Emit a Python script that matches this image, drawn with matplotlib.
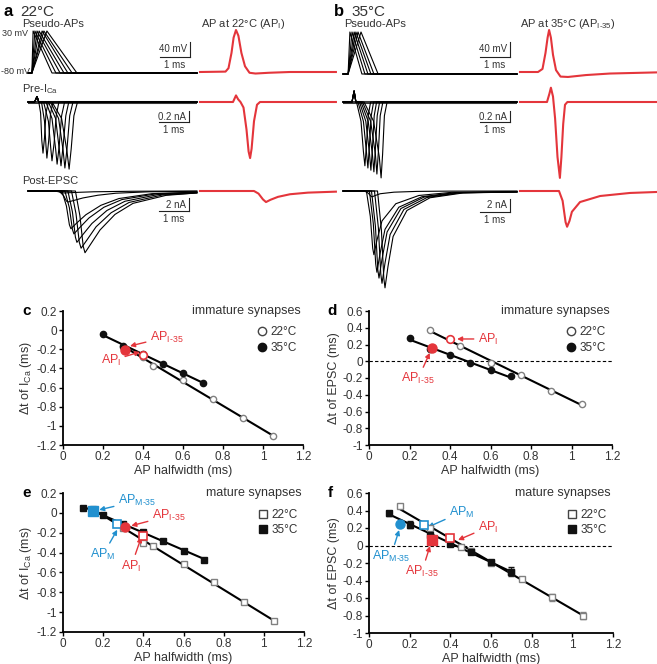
import numpy as np
import matplotlib
matplotlib.use('Agg')
import matplotlib.pyplot as plt
from matplotlib.ticker import FuncFormatter
from matplotlib.lines import Line2D

plt.rcParams['font.family'] = ['Liberation Sans', 'DejaVu Sans']
plt.rcParams['mathtext.fontset'] = 'custom'
plt.rcParams['mathtext.rm'] = 'Liberation Sans'
plt.rcParams['mathtext.it'] = 'Liberation Sans'
plt.rcParams['axes.unicode_minus'] = False

RED = '#e4353b'
BLUE = '#2190cf'
GRAY_TXT = '#333333'

# ---------------- traces (ms, mV / nA) ----------------
# pseudo-APs (triangles): start, peak and end times
pa22_start = 0.13
pa22_peak = [0.17, 0.23, 0.30, 0.37, 0.47, 0.53, 0.63]
pa22_end = [0.80, 0.93, 1.07, 1.20, 1.33, 1.47, 1.63]
pa35_start = 0.17
pa35_peak = [0.23, 0.30, 0.37, 0.43, 0.50, 0.60]
pa35_end = [0.63, 0.73, 0.83, 0.93, 1.03, 1.17]

# recorded APs (red)
ap22_t = [0, 0.85, 0.95, 1.05, 1.12, 1.2, 1.28, 1.38, 1.5, 1.65, 1.85, 2.3, 3.0, 4.53]
ap22_v = [-80, -79, -70, -30, 10, 30, 15, -30, -65, -82, -84, -82, -80, -80]
ap35_t = [0, 0.6, 0.75, 0.85, 0.92, 0.97, 1.03, 1.1, 1.2, 1.35, 1.6, 2.2, 3.0, 4.57]
ap35_v = [-80, -80, -72, -30, 10, 30, 10, -35, -75, -92, -93, -88, -84, -81]

# presynaptic Ca currents, 22 C
ica22_pre_t = [0, 0.22, 0.3, 0.36]
ica22_pre_v = [0, 0, 0.1, 0]
ica22_t = [[0.42, 0.46, 0.50, 0.55, 0.60, 0.68],
           [0.45, 0.55, 0.60, 0.63, 0.69, 0.75, 0.83],
           [0.52, 0.68, 0.76, 0.80, 0.87, 0.94, 1.03],
           [0.60, 0.80, 0.92, 0.97, 1.04, 1.12, 1.22],
           [0.68, 0.92, 1.04, 1.10, 1.17, 1.26, 1.36],
           [0.75, 1.02, 1.17, 1.23, 1.30, 1.39, 1.50],
           [0.80, 1.12, 1.30, 1.37, 1.44, 1.53, 1.65]]
ica22_v = [[-0.2, -0.7, -0.93, -0.65, -0.2, 0],
           [0, -0.35, -0.8, -1.02, -0.7, -0.22, 0],
           [0, -0.35, -0.85, -1.07, -0.75, -0.25, 0],
           [0, -0.3, -0.85, -1.13, -0.8, -0.25, 0],
           [0, -0.3, -0.85, -1.16, -0.8, -0.25, 0],
           [0, -0.3, -0.88, -1.2, -0.85, -0.25, 0],
           [0, -0.3, -0.9, -1.22, -0.85, -0.25, 0]]
ica22_red_t = [0, 1.1, 1.2, 1.27, 1.35, 1.45, 1.55, 1.62, 1.67, 1.72, 1.8, 1.9, 2.0, 4.53]
ica22_red_v = [0, 0, 0.12, 0.05, 0, -0.1, -0.5, -0.9, -1.02, -0.85, -0.35, -0.05, 0, 0]

# presynaptic Ca currents, 35 C
ica35_pre_t = [0, 0.3, 0.37, 0.43]
ica35_pre_v = [0, 0, 0.2, 0]
ica35_t = [[0.45, 0.60, 0.68, 0.73, 0.78, 0.84, 0.92],
           [0.50, 0.68, 0.78, 0.83, 0.88, 0.94, 1.02],
           [0.55, 0.76, 0.88, 0.93, 0.98, 1.04, 1.12],
           [0.60, 0.84, 0.98, 1.03, 1.08, 1.14, 1.22],
           [0.65, 0.92, 1.08, 1.13, 1.18, 1.24, 1.33],
           [0.70, 1.02, 1.21, 1.27, 1.32, 1.38, 1.47]]
ica35_v = [[0, -0.35, -0.9, -1.16, -0.8, -0.25, 0],
           [0, -0.35, -0.9, -1.2, -0.8, -0.25, 0],
           [0, -0.35, -0.92, -1.24, -0.85, -0.25, 0],
           [0, -0.35, -0.95, -1.27, -0.85, -0.25, 0],
           [0, -0.35, -0.95, -1.31, -0.9, -0.25, 0],
           [0, -0.35, -1.0, -1.38, -0.95, -0.25, 0]]
ica35_red_t = [0, 0.9, 0.98, 1.03, 1.1, 1.17, 1.25, 1.33, 1.38, 1.44, 1.5, 1.58, 4.57]
ica35_red_v = [0, 0, 0.15, 0.26, 0.1, -0.3, -1.0, -1.38, -1.0, -0.4, -0.05, 0, 0]

# EPSCs, 22 C
epsc22_t = [[0, 0.9, 1.05, 1.2, 1.7, 2.2, 3.5, 5.63],
            [0, 1.03, 1.18, 1.28, 1.33, 1.53, 1.83, 2.33, 2.93, 4.03, 5.63],
            [0, 1.13, 1.28, 1.38, 1.43, 1.63, 1.93, 2.43, 3.03, 4.13, 5.63],
            [0, 1.23, 1.38, 1.48, 1.53, 1.73, 2.03, 2.53, 3.13, 4.23, 5.63],
            [0, 1.33, 1.48, 1.58, 1.63, 1.83, 2.13, 2.63, 3.23, 4.33, 5.63],
            [0, 1.45, 1.60, 1.71, 1.77, 1.97, 2.27, 2.77, 3.37, 4.47, 5.63],
            [0, 1.58, 1.73, 1.84, 1.90, 2.10, 2.40, 2.90, 3.50, 4.60, 5.63]]
epsc22_v = [[0, 0, -0.15, -0.3, -0.2, -0.12, -0.04, 0],
            [0, 0, -0.68, -1.53, -1.7, -1.45, -1.07, -0.65, -0.34, -0.12, -0.05],
            [0, 0, -2.3, -5.2, -5.8, -4.9, -3.65, -2.2, -1.16, -0.41, -0.17],
            [0, 0, -2.6, -5.9, -6.6, -5.6, -4.16, -2.5, -1.32, -0.46, -0.2],
            [0, 0, -3.2, -7.1, -7.9, -6.7, -5.0, -3.0, -1.58, -0.55, -0.24],
            [0, 0, -3.5, -7.9, -8.8, -7.5, -5.5, -3.35, -1.76, -0.62, -0.3],
            [0, 0, -3.8, -8.5, -9.5, -8.1, -6.0, -3.6, -1.9, -0.67, -0.3]]
epsc22_red_t = [0, 1.8, 1.95, 2.1, 2.2, 2.35, 2.6, 3.0, 3.6, 4.53]
epsc22_red_v = [0, 0, -0.4, -1.3, -1.7, -1.35, -0.9, -0.5, -0.25, -0.1]

# EPSCs, 35 C
epsc35_t = [[0, 0.72, 0.85, 0.93, 0.97, 1.07, 1.24, 1.70, 2.47, 3.57, 5.8],
            [0, 0.78, 0.91, 0.99, 1.03, 1.13, 1.30, 1.76, 2.53, 3.63, 5.8],
            [0, 0.88, 1.01, 1.09, 1.13, 1.23, 1.40, 1.86, 2.63, 3.73, 5.8],
            [0, 0.95, 1.08, 1.16, 1.20, 1.30, 1.47, 1.93, 2.70, 3.80, 5.8],
            [0, 1.05, 1.18, 1.26, 1.30, 1.40, 1.57, 2.03, 2.80, 3.90, 5.8],
            [0, 1.15, 1.28, 1.36, 1.40, 1.50, 1.67, 2.13, 2.90, 4.00, 5.8]]
epsc35_v = [[0, 0, -0.36, -0.81, -0.9, -0.7, -0.42, -0.18, -0.06, -0.02, 0],
            [0, 0, -3.9, -8.8, -9.8, -7.6, -4.6, -1.96, -0.69, -0.2, -0.1],
            [0, 0, -5.0, -11.2, -12.5, -9.75, -5.9, -2.5, -0.88, -0.25, -0.12],
            [0, 0, -5.4, -12.1, -13.4, -10.5, -6.3, -2.7, -0.94, -0.27, -0.13],
            [0, 0, -5.7, -12.8, -14.2, -11.1, -6.7, -2.84, -1.0, -0.28, -0.14],
            [0, 0, -6.0, -13.4, -14.9, -11.6, -7.0, -3.0, -1.04, -0.3, -0.15]]
epsc35_red_t = [0, 1.3, 1.42, 1.52, 1.57, 1.65, 1.73, 2.0, 2.67, 3.67, 4.57]
epsc35_red_v = [0, 0, -1.5, -4.8, -5.5, -4.6, -3.2, -1.7, -0.77, -0.3, -0.15]

# ---------------- summary data (AP halfwidth vs delta t) ----------------
hw22 = [0.3, 0.4, 0.45, 0.6, 0.75, 0.9, 1.05]
hw35 = [0.2, 0.3, 0.4, 0.5, 0.6, 0.7]
c_22 = [-0.18, -0.28, -0.37, -0.52, -0.72, -0.92, -1.11]
c_35 = [-0.04, -0.17, -0.25, -0.35, -0.45, -0.55]
d_22 = [0.37, 0.26, 0.18, -0.02, -0.17, -0.35, -0.51]
d_35 = [0.28, 0.15, 0.07, -0.02, -0.11, -0.18]
c_api = (0.40, -0.26)
c_api35 = (0.31, -0.21)
d_api = (0.40, 0.27)
d_api35 = (0.31, 0.16)

hw22m = [0.15, 0.3, 0.4, 0.45, 0.6, 0.75, 0.9, 1.05]
hw35m = [0.1, 0.2, 0.3, 0.4, 0.5, 0.6, 0.7]
e_22 = [0.04, -0.15, -0.30, -0.33, -0.52, -0.70, -0.90, -1.09]
e_35 = [0.05, -0.02, -0.11, -0.19, -0.28, -0.38, -0.47]
e_apm = (0.27, -0.11)
e_apm35 = (0.15, 0.02)
e_api = (0.40, -0.23)
e_api35 = (0.31, -0.14)

f_hw22 = [0.15, 0.3, 0.45, 0.5, 0.6, 0.7, 0.75, 0.9, 1.05]
f_22 = [0.45, 0.20, -0.02, -0.06, -0.20, -0.30, -0.38, -0.59, -0.80]
f_22_err = [0.02, 0.02, 0.02, 0.02, 0.02, 0.03, 0.02, 0.04, 0.04]
f_35 = [0.37, 0.24, 0.12, 0.02, -0.07, -0.19, -0.30]
f_35_err = [0.03, 0.04, 0.02, 0.02, 0.02, 0.02, 0.05]
f_apm = (0.27, 0.23)
f_apm35 = (0.15, 0.25)
f_api = (0.40, 0.09)
f_api35 = (0.31, 0.06)

# ---------------- figure ----------------
W, H = 657, 664
fig = plt.figure(figsize=(W / 100, H / 100), dpi=100)
MSPX = 30.0  # px per ms in trace rows


def px_axes(x0, x1, ytop, ybot):
    return fig.add_axes([x0 / W, 1 - ybot / H, (x1 - x0) / W, (ybot - ytop) / H])


def trace_axes(x0, x1, yzero, ppu, lo, hi):
    ax = px_axes(x0, x1, yzero - hi * ppu, yzero - lo * ppu)
    ax.set_xlim(0, (x1 - x0) / MSPX)
    ax.set_ylim(lo, hi)
    ax.axis('off')
    return ax


def ftext(x, y, s, **kw):
    kw.setdefault('va', 'center')
    kw.setdefault('color', GRAY_TXT)
    fig.text(x / W, 1 - y / H, s, **kw)


def scalebar(ax, x, y, dy, label):
    ax.plot([x, x], [y, y + dy], color='#222', lw=0.8, clip_on=False)
    ax.plot([x - 1, x], [y, y], color='#222', lw=0.8, clip_on=False)
    ax.annotate(label, (x, y + dy / 2), xytext=(-2, 0), textcoords='offset points',
                ha='right', va='center', fontsize=7, color=GRAY_TXT)
    ax.annotate('1 ms', (x - 0.5, y), xytext=(0, -2), textcoords='offset points',
                ha='center', va='top', fontsize=7, color=GRAY_TXT)


AP_PPU = 42 / 110.0
# ---- panel a ----
ax = trace_axes(28, 197, 73 - 80 * AP_PPU, AP_PPU, -100, 40)
tend = ax.get_xlim()[1]
for p, e in zip(pa22_peak, pa22_end):
    ax.plot([0, pa22_start, p, e, tend], [-80, -80, 30, -80, -80], color='k', lw=0.8, clip_on=False)
scalebar(ax, (190 - 28) / MSPX, -38, 40, '40 mV')
ax = trace_axes(200, 336, 72 - 80 * AP_PPU, AP_PPU, -100, 40)
ax.plot(ap22_t, ap22_v, color=RED, lw=1.5, clip_on=False)

ax = trace_axes(28, 197, 102, 55, -1.6, 0.4)
ax.axhline(0, color='#3a3a3a', lw=2.2)
for t, v in zip(ica22_t, ica22_v):
    ax.plot(ica22_pre_t + t + [tend], ica22_pre_v + v + [0], color='k', lw=0.8, clip_on=False)
scalebar(ax, (189 - 28) / MSPX, -0.364, 0.2, '0.2 nA')
ax = trace_axes(200, 336, 102, 55, -1.6, 0.4)
ax.plot(ica22_red_t, ica22_red_v, color=RED, lw=1.5, clip_on=False)

ax = trace_axes(28, 197, 191, 6.5, -16, 1)
for t, v in zip(epsc22_t, epsc22_v):
    ax.plot(t, v, color='k', lw=0.8, clip_on=False)
scalebar(ax, (189 - 28) / MSPX, -3.08, 2, '2 nA')
ax = trace_axes(200, 336, 191, 6.5, -16, 1)
ax.plot(epsc22_red_t, epsc22_red_v, color=RED, lw=1.5, clip_on=False)

# ---- panel b ----
ax = trace_axes(343, 517, 74 - 80 * AP_PPU, AP_PPU, -100, 40)
tend = ax.get_xlim()[1]
for p, e in zip(pa35_peak, pa35_end):
    ax.plot([0, pa35_start, p, e, tend], [-80, -80, 30, -80, -80], color='k', lw=0.8, clip_on=False)
scalebar(ax, (510 - 343) / MSPX, -35.5, 40, '40 mV')
ax = trace_axes(520, 657, 72 - 80 * AP_PPU, AP_PPU, -100, 40)
ax.plot(ap35_t, ap35_v, color=RED, lw=1.5, clip_on=False)

ax = trace_axes(343, 517, 102, 55, -1.6, 0.4)
ax.axhline(0, color='#3a3a3a', lw=2.2)
for t, v in zip(ica35_t, ica35_v):
    ax.plot(ica35_pre_t + t + [tend], ica35_pre_v + v + [0], color='k', lw=0.8, clip_on=False)
scalebar(ax, (510 - 343) / MSPX, -0.364, 0.2, '0.2 nA')
ax = trace_axes(520, 657, 102, 55, -1.6, 0.4)
ax.plot(ica35_red_t, ica35_red_v, color=RED, lw=1.5, clip_on=False)

ax = trace_axes(343, 517, 191, 6.5, -16, 1)
for t, v in zip(epsc35_t, epsc35_v):
    ax.plot(t, v, color='k', lw=0.8, clip_on=False)
scalebar(ax, (510 - 343) / MSPX, -3.23, 2, '2 nA')
ax = trace_axes(520, 657, 191, 6.5, -16, 1)
ax.plot(epsc35_red_t, epsc35_red_v, color=RED, lw=1.5, clip_on=False)

# labels of top panels
ftext(3, 12, 'a', fontsize=12, fontweight='bold', color='k')
ftext(20, 12, '22°C', fontsize=11)
ftext(22, 24, 'Pseudo-APs', fontsize=8)
ftext(2, 33, '30 mV', fontsize=6.5, ha='left')
ftext(1, 72, '-80 mV', fontsize=6.5, ha='left')
ftext(201, 24, 'AP at 22°C (AP$_{\\mathregular{I}}$)', fontsize=8)
ftext(22, 89, 'Pre-I$_{\\mathregular{Ca}}$', fontsize=8)
ftext(22, 181, 'Post-EPSC', fontsize=8)
ftext(334, 12, 'b', fontsize=12, fontweight='bold', color='k')
ftext(351, 12, '35°C', fontsize=11)
ftext(344, 24, 'Pseudo-APs', fontsize=8)
ftext(520, 24, 'AP at 35°C (AP$_{\\mathregular{I\u201035}}$)', fontsize=8)

# ---------------- scatter panels ----------------


def tickfmt(v, pos):
    s = f'{v:.1f}'.rstrip('0').rstrip('.')
    return '0' if s in ('-0', '') else s


def scatter_axes(box, ylim, letter, title):
    ax = px_axes(*box)
    ax.set_xlim(0, 1.2)
    ax.set_ylim(*ylim)
    ax.set_xticks(np.arange(0, 1.21, 0.2))
    ax.set_yticks(np.arange(ylim[0], ylim[1] + 0.01, 0.2))
    ax.xaxis.set_major_formatter(FuncFormatter(tickfmt))
    ax.yaxis.set_major_formatter(FuncFormatter(tickfmt))
    for s in ('top', 'right'):
        ax.spines[s].set_visible(False)
    for s in ('left', 'bottom'):
        ax.spines[s].set_linewidth(1.3)
    ax.tick_params(direction='out', length=3, width=1, labelsize=8.5, colors='k', labelcolor=GRAY_TXT, pad=1.5)
    ax.set_xlabel('AP halfwidth (ms)', fontsize=9, color=GRAY_TXT, labelpad=1)
    ax.text(-0.17, 1.0, letter, transform=ax.transAxes, fontsize=11, fontweight='bold', va='center')
    ax.text(0.99, 1.0, title, transform=ax.transAxes, fontsize=9, ha='right', va='center', color=GRAY_TXT)
    return ax


def fit_line(ax, x, y):
    k, b = np.polyfit(x, y, 1)
    xx = np.array([min(x), max(x)])
    ax.plot(xx, k * xx + b, color='k', lw=1.5, zorder=2)


def legend(ax, marker):
    h = [Line2D([], [], ls='none', marker=marker, ms=6, mfc='white', mec='#444', mew=1),
         Line2D([], [], ls='none', marker=marker, ms=6, mfc='#111', mec='#111')]
    ax.legend(h, ['22°C', '35°C'], loc='upper right', bbox_to_anchor=(1.0, 0.93), frameon=False,
              fontsize=8.5, handlelength=0.8, handletextpad=0.3, labelspacing=0.3, borderpad=0,
              labelcolor=GRAY_TXT)


def arrow(ax, text, tip, pos, color, ha='left'):
    parts = text.split('_')
    s = parts[0] + ('$_{\\mathregular{%s}}$' % parts[1].replace('-', '\u2010') if len(parts) > 1 else '')
    ax.annotate(s, xy=tip, xytext=pos, ha=ha, va='center', fontsize=9, color=color,
                arrowprops=dict(arrowstyle='-|>', color=color, lw=1, mutation_scale=7,
                                shrinkA=1, shrinkB=0))


open_kw = dict(ls='none', ms=4.5, mfc='white', mec='#808080', mew=1, zorder=3)
fill_kw = dict(ls='none', ms=4.5, mfc='#111', mec='#111', zorder=3)

# c
ax = scatter_axes((63, 303, 311, 445), (-1.2, 0.2), 'c', 'immature synapses')
ax.set_ylabel('Δt of I$_{\\mathregular{Ca}}$ (ms)', fontsize=9, color=GRAY_TXT, labelpad=2)
fit_line(ax, hw22, c_22)
fit_line(ax, hw35, c_35)
ax.plot(hw22, c_22, marker='o', **open_kw)
ax.plot(hw35, c_35, marker='o', **fill_kw)
ax.plot(*c_api, marker='o', ms=5.5, mfc='white', mec=RED, mew=1.2, zorder=4)
ax.plot(*c_api35, marker='o', ms=6.5, mfc=RED, mec=RED, zorder=4)
arrow(ax, 'AP_I-35', (0.335, -0.166), (0.435, -0.072), RED)
arrow(ax, 'AP_I', (0.385, -0.228), (0.29, -0.32), RED, ha='right')
legend(ax, 'o')

# d
ax = scatter_axes((369, 612, 311, 445), (-1.0, 0.6), 'd', 'immature synapses')
ax.set_ylabel('Δt of EPSC (ms)', fontsize=9, color=GRAY_TXT, labelpad=2)
ax.axhline(0, color='k', lw=0.8, ls=(0, (3, 2)), zorder=1)
fit_line(ax, hw22, d_22)
fit_line(ax, hw35, d_35)
ax.plot(hw22, d_22, marker='o', **open_kw)
ax.plot(hw35, d_35, marker='o', **fill_kw)
ax.plot(*d_api, marker='o', ms=5.5, mfc='white', mec=RED, mew=1.2, zorder=4)
ax.plot(*d_api35, marker='o', ms=6.5, mfc=RED, mec=RED, zorder=4)
arrow(ax, 'AP_I', (0.435, 0.266), (0.538, 0.266), RED)
arrow(ax, 'AP_I-35', (0.30, 0.10), (0.242, -0.21), RED, ha='center')
legend(ax, 'o')

# e
ax = scatter_axes((63, 304, 493, 632), (-1.2, 0.2), 'e', 'mature synapses')
ax.set_ylabel('Δt of I$_{\\mathregular{Ca}}$ (ms)', fontsize=9, color=GRAY_TXT, labelpad=2)
fit_line(ax, hw22m, e_22)
fit_line(ax, hw35m, e_35)
ax.plot(hw22m, e_22, marker='s', **open_kw)
ax.plot(hw35m, e_35, marker='s', **fill_kw)
ax.plot(*e_apm, marker='s', ms=6, mfc='white', mec=BLUE, mew=1.2, zorder=4)
ax.plot(*e_apm35, marker='s', ms=6.5, mfc=BLUE, mec=BLUE, zorder=4)
ax.plot(*e_api, marker='s', ms=6, mfc='white', mec=RED, mew=1.2, zorder=4)
ax.plot(*e_api35, marker='o', ms=6.5, mfc=RED, mec=RED, zorder=4)
arrow(ax, 'AP_M-35', (0.18, 0.03), (0.274, 0.12), BLUE)
arrow(ax, 'AP_I-35', (0.34, -0.13), (0.443, -0.03), RED)
arrow(ax, 'AP_M', (0.27, -0.17), (0.2, -0.42), BLUE, ha='center')
arrow(ax, 'AP_I', (0.39, -0.245), (0.34, -0.535), RED, ha='center')
legend(ax, 's')

# f
ax = scatter_axes((369, 613, 493, 633), (-1.0, 0.6), 'f', 'mature synapses')
ax.set_ylabel('Δt of EPSC (ms)', fontsize=9, color=GRAY_TXT, labelpad=2)
ax.axhline(0, color='k', lw=0.8, ls=(0, (3, 2)), zorder=1)
fit_line(ax, f_hw22, f_22)
fit_line(ax, hw35m, f_35)
ax.errorbar(f_hw22, f_22, yerr=f_22_err, fmt='s', ms=4.5, mfc='white', mec='#808080', mew=1,
            ecolor='#808080', elinewidth=0.8, capsize=2, zorder=3)
ax.errorbar(hw35m, f_35, yerr=f_35_err, fmt='s', ms=4.5, mfc='#111', mec='#111',
            ecolor='#111', elinewidth=0.8, capsize=2, zorder=3)
ax.plot(*f_apm, marker='s', ms=6, mfc='white', mec=BLUE, mew=1.2, zorder=4)
ax.plot(*f_apm35, marker='o', ms=6.5, mfc=BLUE, mec=BLUE, zorder=4)
ax.plot(*f_api, marker='s', ms=6, mfc='white', mec=RED, mew=1.2, zorder=4)
ax.plot(*f_api35, marker='s', ms=6.5, mfc=RED, mec=RED, zorder=4)
arrow(ax, 'AP_M', (0.29, 0.21), (0.394, 0.383), BLUE)
arrow(ax, 'AP_I', (0.438, 0.063), (0.536, 0.21), RED)
arrow(ax, 'AP_M-35', (0.148, 0.177), (0.108, -0.12), BLUE, ha='center')
arrow(ax, 'AP_I-35', (0.30, -0.006), (0.26, -0.30), RED, ha='center')
legend(ax, 's')

fig.savefig('out.png', dpi=100)
